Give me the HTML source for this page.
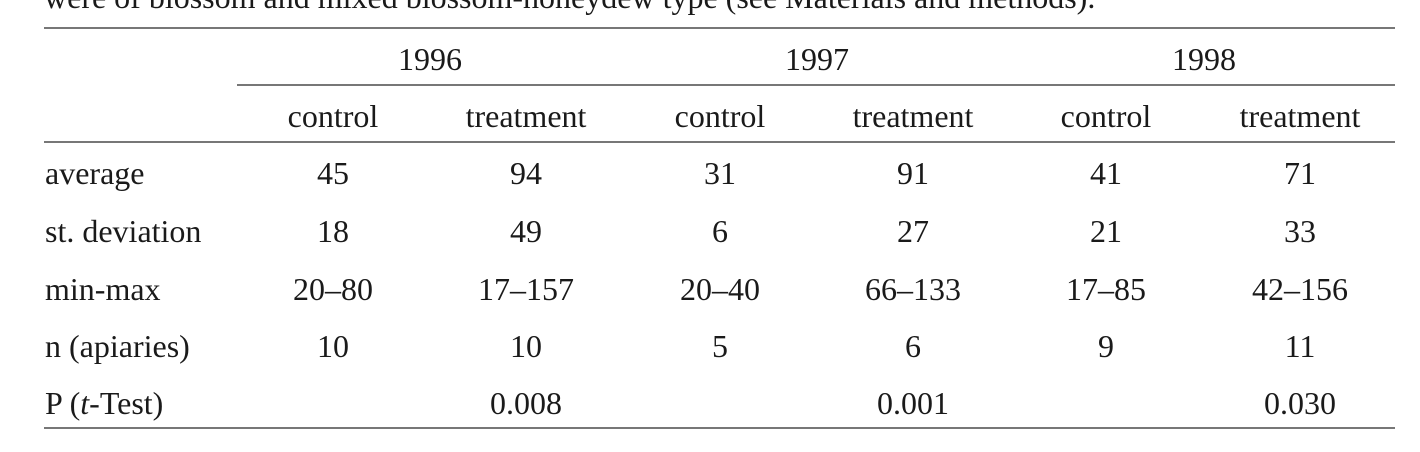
<!DOCTYPE html>
<html><head><meta charset="utf-8"><style>
body{margin:0;width:1420px;height:452px;background:#fff;overflow:hidden;position:relative;font-family:"Liberation Serif",serif;font-size:32px;color:#1a1a1a}
.t{position:absolute;white-space:nowrap;line-height:1}
.c{transform:translateX(-50%)}
.r{position:absolute;height:1.5px;background:#777}
</style></head><body>
<div class="t" style="left:44px;top:-19px">were of blossom and mixed blossom-honeydew type (see Materials and methods).</div>
<div class="r" style="left:44px;width:1351px;top:27px"></div>
<div class="r" style="left:237px;width:1158px;top:84px"></div>
<div class="r" style="left:44px;width:1351px;top:141px"></div>
<div class="r" style="left:44px;width:1351px;top:427px"></div>
<div id="tbl"></div>
<script>
const years=["1996","1997","1998"];
const yearX=[430,817,1204];
const colX=[333,526,720,913,1106,1300];
const subs=["control","treatment","control","treatment","control","treatment"];
const rowLabels=["average","st. deviation","min-max","n (apiaries)"];
const rows=[["45","94","31","91","41","71"],["18","49","6","27","21","33"],["20–80","17–157","20–40","66–133","17–85","42–156"],["10","10","5","6","9","11"]];
const pvals=["0.008","0.001","0.030"];
const tbl=document.getElementById('tbl');
function add(txt,x,y,center,name,html){const d=document.createElement('div');d.className='t'+(center?' c':'');d.style.left=x+'px';d.style.top=y+'px';if(html)d.innerHTML=txt;else d.textContent=txt;


tbl.appendChild(d);}
years.forEach((y,i)=>add(y,yearX[i],43,true,'year-header'));
subs.forEach((s,i)=>add(s,colX[i],100,true,'group-header'));
const rowY=[157,215,273,330];
rowLabels.forEach((l,r)=>{add(l,45,rowY[r],false,'row-label');rows[r].forEach((v,i)=>add(v,colX[i],rowY[r],true,'cell-value'));});
add('P (<i>t</i>-Test)',45,387,false,'row-label',true);
pvals.forEach((p,i)=>add(p,colX[i*2+1],387,true,'p-value'));
</script>
</body></html>
